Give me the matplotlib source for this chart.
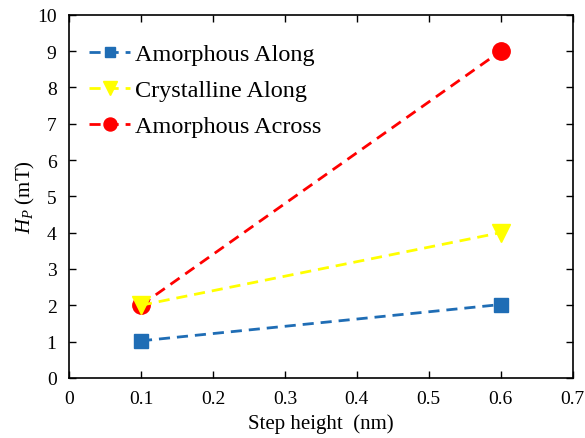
import matplotlib
matplotlib.use("Agg")
import matplotlib.pyplot as plt

plt.rcParams["font.family"] = ["Liberation Serif", "DejaVu Serif"]
plt.rcParams["mathtext.fontset"] = "custom"
plt.rcParams["mathtext.it"] = "Liberation Serif:italic"
plt.rcParams["mathtext.rm"] = "Liberation Serif"

# Data
step_height = [0.1, 0.6]
amorphous_along = [1.02, 2.02]
crystalline_along = [2.0, 4.0]
amorphous_across = [2.0, 9.0]

fig = plt.figure(figsize=(5.85, 4.39), dpi=100)
ax = fig.add_axes([0.118, 0.137, 0.861, 0.827])

ax.plot(step_height, amorphous_along, linestyle="--", dashes=(4, 2.5), color="#1f6db5",
        marker="s", markersize=10.5, linewidth=2, label="Amorphous Along", zorder=3)
ax.plot(step_height, crystalline_along, linestyle="--", dashes=(4, 2.5), color="#ffff00",
        marker="v", markersize=13, linewidth=2, label="Crystalline Along", zorder=4)
ax.plot(step_height, amorphous_across, linestyle="--", dashes=(4, 2.5), color="#ff0000",
        marker="o", markersize=12.5, linewidth=2, label="Amorphous Across", zorder=2)

ax.legend(loc="upper left", frameon=False, fontsize=17.5, markerscale=0.75,
          handlelength=1.7, handletextpad=0.2, labelspacing=0.58,
          borderpad=0, borderaxespad=0, bbox_to_anchor=(0.04, 0.922))

ax.set_xlim(0, 0.7)
ax.set_ylim(0, 10)
ax.set_xticks([0, 0.1, 0.2, 0.3, 0.4, 0.5, 0.6, 0.7])
ax.set_xticklabels(["0", "0.1", "0.2", "0.3", "0.4", "0.5", "0.6", "0.7"])
ax.set_yticks(range(0, 11))

ax.tick_params(direction="in", top=True, right=True, labelsize=14, length=5, width=1, pad=9)
for spine in ax.spines.values():
    spine.set_linewidth(1.2)

ax.set_xlabel("Step height  (nm)", fontsize=15, labelpad=4)
ax.set_ylabel("$H_P$ (mT)", fontsize=15, labelpad=0)

fig.savefig("out.png", dpi=100)
